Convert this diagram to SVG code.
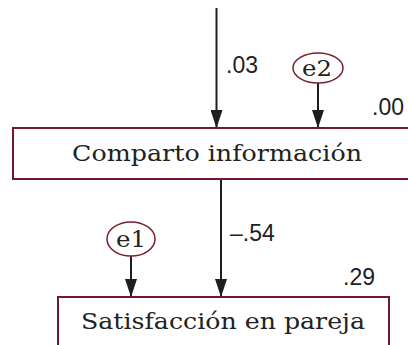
<svg xmlns="http://www.w3.org/2000/svg" width="408" height="345" viewBox="0 0 408 345">
<defs>
<marker id="ah" markerUnits="userSpaceOnUse" markerWidth="18" markerHeight="12" refX="18" refY="6" orient="auto" viewBox="0 0 18 12">
<path d="M0,0 L18,6 L0,12 Z" fill="#1e1e1e"/>
</marker>
<style>
.box{fill:#fff;stroke:#6e1c2b;stroke-width:2}
.ell{fill:#fff;stroke:#7a2030;stroke-width:1.5}
.lbl{font-family:"DejaVu Serif","Liberation Serif",serif;font-size:23px;fill:#222;text-anchor:middle}
.el{font-size:22px}
.num{font-family:"Liberation Sans",Arial,sans-serif;font-size:23px;fill:#222}
.con{stroke:#1e1e1e;stroke-width:2;fill:none;marker-end:url(#ah)}
</style>
</defs>
<rect width="408" height="345" fill="#fff"/>
<g id="connectors">
<line class="con" x1="216.5" y1="8" x2="216.5" y2="128"/>
<line class="con" x1="318" y1="83" x2="318" y2="128"/>
<line class="con" x1="221" y1="179" x2="221" y2="297"/>
<line class="con" x1="131" y1="256" x2="131" y2="297"/>
</g>
<g id="labels">
<text class="num" x="226" y="73">.03</text>
<text class="num" x="372" y="115">.00</text>
<text class="num" x="230" y="241">–.54</text>
<text class="num" x="343" y="285">.29</text>
</g>
<g id="e2">
<ellipse class="ell" cx="318" cy="68" rx="25" ry="15"/>
<text class="lbl el" x="317" y="75.5" textLength="30" lengthAdjust="spacingAndGlyphs">e2</text>
</g>
<g id="comparto">
<rect class="box" x="13" y="128" width="420" height="51"/>
<text class="lbl" x="217" y="161" textLength="290" lengthAdjust="spacingAndGlyphs">Comparto información</text>
</g>
<g id="e1">
<ellipse class="ell" cx="131" cy="239" rx="24" ry="17"/>
<text class="lbl el" x="131" y="246.5" textLength="30" lengthAdjust="spacingAndGlyphs">e1</text>
</g>
<g id="satisfaccion">
<rect class="box" x="58" y="297" width="331" height="70"/>
<text class="lbl" x="223" y="328.5" textLength="284" lengthAdjust="spacingAndGlyphs">Satisfacción en pareja</text>
</g>
</svg>
